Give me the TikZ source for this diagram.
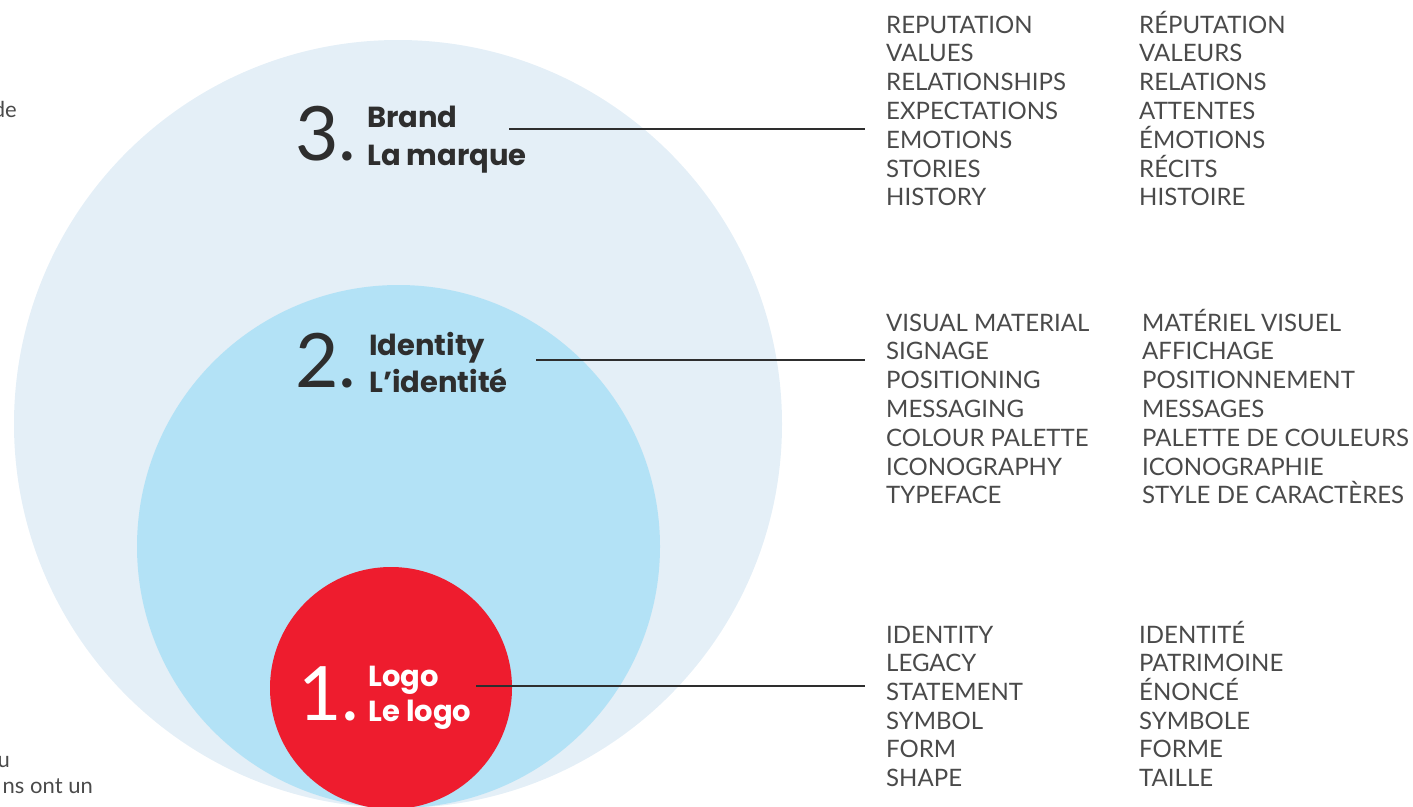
\documentclass[tikz,border=0pt]{standalone}
\usepackage{fontspec}
\setmainfont{Lato}
\newfontfamily\titlefont{Poppins}

\definecolor{outerblue}{HTML}{E4EFF7}
\definecolor{midblue}{HTML}{B3E2F6}
\definecolor{logored}{HTML}{EE1C2E}
\definecolor{inkgray}{HTML}{2E2E2E}
\definecolor{listgray}{HTML}{4A4A4A}

\begin{document}
\begin{tikzpicture}[x=1pt,y=-1pt]

    \tikzset{
      item/.style={
        anchor=base west,
        inner sep=0pt,
        text=listgray,
        font=\fontsize{24}{24}\selectfont,
      },
      num/.style={
        anchor=base west,
        inner sep=0pt,
        font=\fontsize{75}{75}\selectfont,
      },
      title/.style={
        anchor=base west,
        inner sep=0pt,
        font=\titlefont\bfseries\fontsize{29}{29}\selectfont,
      },
      leader/.style={
        draw=inkgray,
        line width=2pt,
      },
    }
    \useasboundingbox (0,0) rectangle (1413,806);
    \clip (0,0) rectangle (1413,806);

    % circles
    \fill[outerblue] (398,424) circle[radius=384pt];
    \fill[midblue] (398.5,546.5) circle[radius=261.5pt];
    \fill[logored] (391,688) circle[radius=121pt];

    % cut-off text at the left edge
    \node[item, anchor=base east, font=\fontsize{22}{22}\selectfont] (fragde) at (17,117) {de};
    \node[item, anchor=base east, font=\fontsize{22}{22}\selectfont] (fragu) at (10,767) {u};
    \node[item, anchor=base east, font=\fontsize{22}{22}\selectfont] (fragns) at (93,793) {ns ont un};

    % labels
    \node[num, text=inkgray] (num3) at (295,160) {3.};
    \node[title, text=inkgray] (brand) at (367,127) {Brand};
    \node[title, text=inkgray] (marque) at (367,165) {La marque};

    \node[num, text=inkgray] (num2) at (295,387) {2.};
    \node[title, text=inkgray] (identity) at (369,355) {Identity};
    \node[title, text=inkgray] (identite) at (369,392) {L’identité};

    \node[num, text=white] (num1) at (298,720) {1.};
    \node[title, text=white] (logo) at (368,686) {Logo};
    \node[title, text=white] (lelogo) at (368,721) {Le logo};

    % lists
    \foreach \en/\fr [count=\i from 0] in {REPUTATION/RÉPUTATION, VALUES/VALEURS,
        RELATIONSHIPS/RELATIONS, EXPECTATIONS/ATTENTES, EMOTIONS/ÉMOTIONS,
        STORIES/RÉCITS, HISTORY/HISTOIRE}{
      \node[item] (brandEn\i) at (886,33+28.8*\i) {\en};
      \node[item] (brandFr\i) at (1139,33+28.8*\i) {\fr};
    }
    \foreach \en/\fr [count=\i from 0] in {VISUAL MATERIAL/MATÉRIEL VISUEL,
        SIGNAGE/AFFICHAGE, POSITIONING/POSITIONNEMENT, MESSAGING/MESSAGES,
        COLOUR PALETTE/PALETTE DE COULEURS, ICONOGRAPHY/ICONOGRAPHIE,
        TYPEFACE/STYLE DE CARACTÈRES}{
      \node[item] (identEn\i) at (886,331+28.8*\i) {\en};
      \node[item] (identFr\i) at (1142,331+28.8*\i) {\fr};
    }
    \foreach \en/\fr [count=\i from 0] in {IDENTITY/IDENTITÉ, LEGACY/PATRIMOINE,
        STATEMENT/ÉNONCÉ, SYMBOL/SYMBOLE, FORM/FORME, SHAPE/TAILLE}{
      \node[item] (logoEn\i) at (886,643+28.7*\i) {\en};
      \node[item] (logoFr\i) at (1139,643+28.7*\i) {\fr};
    }

    % leader lines
    \coordinate (brandStart) at (509,129);
    \coordinate (identStart) at (536,360);
    \coordinate (logoStart) at (476,686);
    \draw[leader] (brandStart) -- (brandStart -| 865,0);
    \draw[leader] (identStart) -- (identStart -| 865,0);
    \draw[leader] (logoStart) -- (logoStart -| 865,0);

\end{tikzpicture}
\end{document}
